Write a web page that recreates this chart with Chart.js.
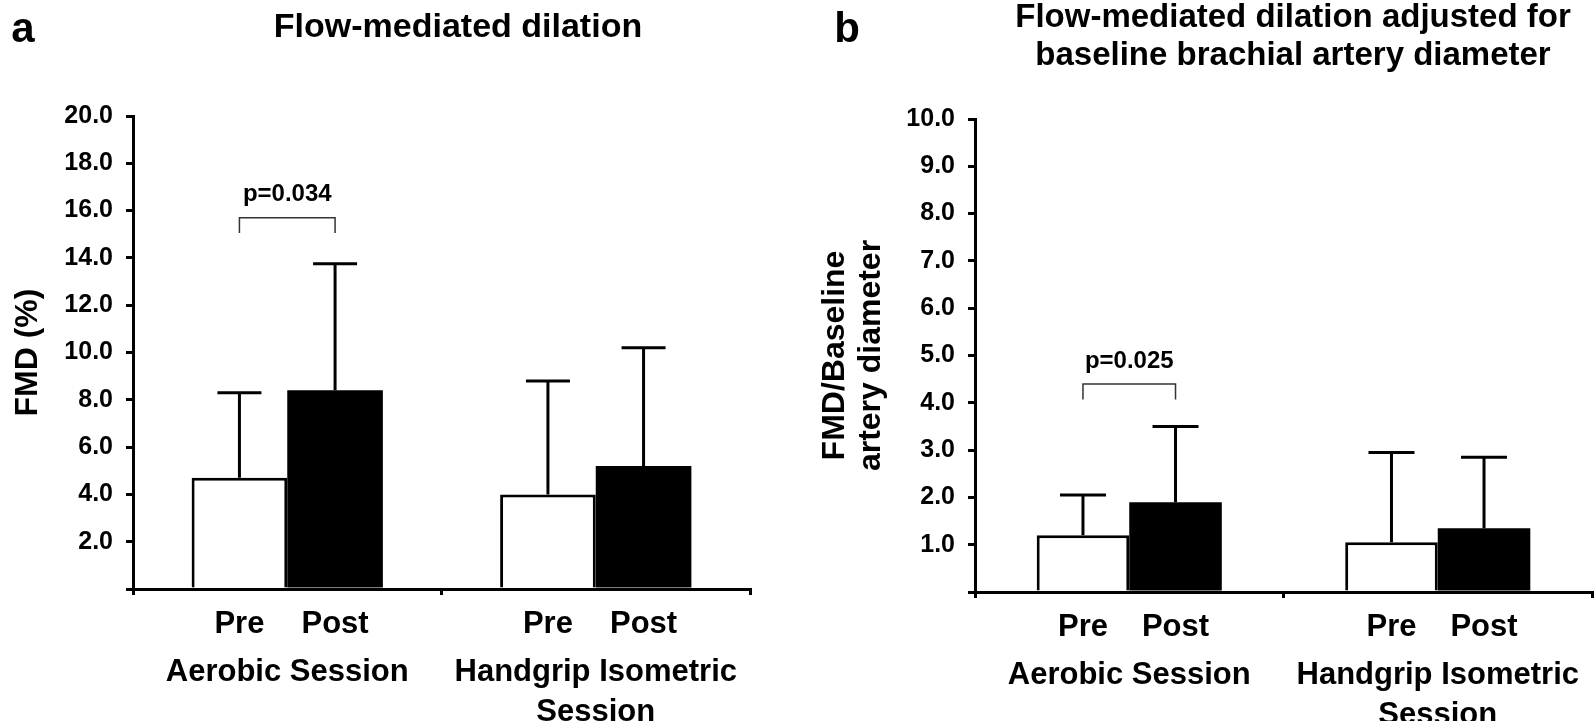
<!DOCTYPE html>
<html><head><meta charset="utf-8">
<script src="https://cdn.jsdelivr.net/npm/chart.js@4.4.1/dist/chart.umd.min.js"></script>
<style>
html,body{margin:0;padding:0;background:#fff;width:1594px;height:721px;overflow:hidden}
canvas{position:absolute;top:0}
#ca{left:0}
#cb{left:797px}
</style></head><body>
<canvas id="ca" width="797" height="721"></canvas>
<canvas id="cb" width="797" height="721"></canvas>
<script>
// ---- data ----
const groups = ["Aerobic Session", ["Handgrip Isometric", "Session"]];
const conditions = ["Pre", "Post"];

// Panel a: FMD (%)
const fmdPre = [4.7, 4.0];
const fmdPost = [8.4, 5.2];
const fmdPreSD = [3.6, 4.8];
const fmdPostSD = [5.35, 5.0];
const fmdTicks = [0, 2, 4, 6, 8, 10, 12, 14, 16, 18, 20];
const fmdP = "p=0.034";

// Panel b: FMD / baseline artery diameter
const adjPre = [1.2, 1.05];
const adjPost = [1.9, 1.35];
const adjPreSD = [0.85, 1.9];
const adjPostSD = [1.6, 1.5];
const adjTicks = [0, 1, 2, 3, 4, 5, 6, 7, 8, 9, 10];
const adjP = "p=0.025";

const FONT = "'Liberation Sans', Arial, sans-serif";

const annot = {
  id: 'annot',
  afterDatasetsDraw(chart, args, o) {
    const ctx = chart.ctx, y = chart.scales.y, area = chart.chartArea;
    ctx.save();
    ctx.fillStyle = '#000';
    ctx.textAlign = 'center';
    ctx.textBaseline = 'middle';
    chart.data.datasets.forEach((ds, i) => {
      const meta = chart.getDatasetMeta(i);
      meta.data.forEach((el, j) => {
        const top = y.getPixelForValue(ds.data[j] + ds.sd[j]);
        ctx.strokeStyle = '#000';
        ctx.lineWidth = 3;
        ctx.beginPath();
        ctx.moveTo(el.x, el.y);
        ctx.lineTo(el.x, top);
        ctx.moveTo(el.x - o.cap, top);
        ctx.lineTo(el.x + o.cap, top);
        ctx.stroke();
        ctx.font = 'bold 31px ' + FONT;
        ctx.fillText(ds.label, el.x, area.bottom + 35);
      });
    });
    // significance bracket between Pre and Post of first group
    const x0 = chart.getDatasetMeta(0).data[0].x;
    const x1 = chart.getDatasetMeta(1).data[0].x;
    const yb = y.getPixelForValue(o.bracket[0]);
    const yl = y.getPixelForValue(o.bracket[1]);
    const yt = y.getPixelForValue(o.bracket[2]);
    ctx.lineWidth = 1.5;
    ctx.strokeStyle = '#333';
    ctx.beginPath();
    ctx.moveTo(x0, yl); ctx.lineTo(x0, yb); ctx.lineTo(x1, yb); ctx.lineTo(x1, yl);
    ctx.stroke();
    ctx.font = 'bold 24px ' + FONT;
    ctx.fillText(o.pText, (x0 + x1) / 2, yt);
    // panel letter and title
    ctx.font = 'bold 42px ' + FONT;
    ctx.fillText(o.letter, o.letterX, o.letterY);
    ctx.font = 'bold ' + o.titleSize + 'px ' + FONT;
    o.title.forEach((t, k) => ctx.fillText(t, o.titleX, o.titleY + k * o.titleLH));
    ctx.restore();
  }
};

function makeChart(id, pre, preSD, post, postSD, ticks, cfg) {
  return new Chart(document.getElementById(id), {
    type: 'bar',
    data: {
      labels: groups,
      datasets: [
        { label: conditions[0], data: pre, sd: preSD, backgroundColor: '#fff', borderColor: '#000', borderWidth: 3,
          categoryPercentage: cfg.catPct, barPercentage: 1 },
        { label: conditions[1], data: post, sd: postSD, backgroundColor: '#000', borderColor: '#000', borderWidth: 0,
          categoryPercentage: cfg.catPct, barPercentage: 1 }
      ]
    },
    options: {
      responsive: false,
      animation: false,
      devicePixelRatio: 1,
      layout: { padding: cfg.padding },
      plugins: {
        legend: { display: false },
        tooltip: { enabled: false },
        annot: cfg.annot
      },
      scales: {
        x: {
          afterFit: s => { s.height = cfg.xHeight; s.paddingLeft = 0; s.paddingRight = 0; },
          ticks: { color: '#000', font: { family: FONT, size: 31, weight: 'bold', lineHeight: 1.3 },
                   padding: 57, maxRotation: 0, autoSkip: false },
          grid: { offset: true, drawOnChartArea: false, drawTicks: true, tickLength: 6, lineWidth: 3, color: '#000' },
          border: { display: true, width: 3, color: '#000' }
        },
        y: {
          min: ticks[0], max: ticks[ticks.length - 1],
          afterFit: s => { s.width = cfg.yWidth; s.paddingTop = 0; s.paddingBottom = 0; },
          afterBuildTicks: s => { s.ticks = ticks.map(v => ({ value: v })); },
          ticks: { color: '#000', font: { family: FONT, size: 25, weight: 'bold' }, padding: 13,
                   callback: v => v === 0 ? '' : Number(v).toFixed(1) },
          grid: { drawOnChartArea: false, drawTicks: true, tickLength: 7, lineWidth: 3, color: '#000' },
          border: { display: true, width: 3, color: '#000' },
          title: { display: true, text: cfg.yTitle, color: '#000',
                   font: { family: FONT, size: 32, weight: 'bold', lineHeight: 1.1 },
                   padding: { top: cfg.yTitlePad, bottom: 0 } }
        }
      }
    },
    plugins: [annot]
  });
}

makeChart('ca', fmdPre, fmdPreSD, fmdPost, fmdPostSD, fmdTicks, {
  padding: { left: 0, right: 47, top: 116, bottom: 0 },
  xHeight: 132, yWidth: 133, yTitle: 'FMD (%)', yTitlePad: 11, catPct: 0.62,
  annot: { cap: 22, bracket: [15.7, 15.05, 16.7], pText: fmdP,
           letter: 'a', letterX: 23, letterY: 30,
           title: ['Flow-mediated dilation'], titleX: 458, titleY: 28, titleLH: 38, titleSize: 34 }
});

makeChart('cb', adjPre, adjPreSD, adjPost, adjPostSD, adjTicks, {
  padding: { left: 0, right: 2, top: 119, bottom: 0 },
  xHeight: 129, yWidth: 178, yTitle: ['FMD/Baseline', 'artery diameter'], yTitlePad: 21, catPct: 0.60,
  annot: { cap: 23, bracket: [4.4, 4.07, 4.87], pText: adjP,
           letter: 'b', letterX: 50, letterY: 30,
           title: ['Flow-mediated dilation adjusted for', 'baseline brachial artery diameter'],
           titleX: 496, titleY: 18, titleLH: 38, titleSize: 33 }
});
</script>
</body></html>
